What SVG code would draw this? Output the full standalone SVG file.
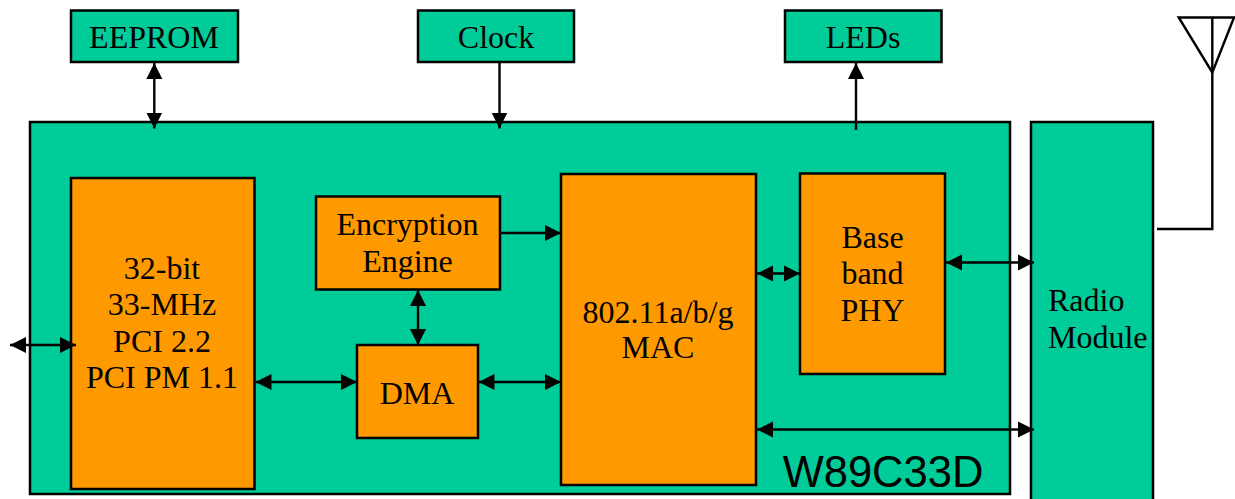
<svg xmlns="http://www.w3.org/2000/svg" width="1235" height="499" viewBox="0 0 1235 499">
<style>
.g{fill:#00cc99;stroke:#000;stroke-width:2.5}
.o{fill:#ff9900;stroke:#000;stroke-width:2.5}
text{font-family:"Liberation Serif","Times New Roman",serif;font-size:32px;fill:#000;text-anchor:middle}
.c line,.c polyline,.c polygon{fill:none;stroke:#000;stroke-width:2.4}
.a{marker-end:url(#h)}
.b{marker-start:url(#t);marker-end:url(#h)}
</style>
<defs>
<marker id="h" markerUnits="userSpaceOnUse" markerWidth="18" markerHeight="18" refX="16" refY="9" orient="auto"><path d="M0,1L16,9L0,17Z" fill="#000"/></marker>
<marker id="t" markerUnits="userSpaceOnUse" markerWidth="18" markerHeight="18" refX="0" refY="9" orient="auto"><path d="M16,1L0,9L16,17Z" fill="#000"/></marker>
</defs>
<g id="eeprom"><rect class="g" x="71" y="10.500" width="167" height="51.500"/><text x="154" y="48">EEPROM</text></g>
<g id="clock"><rect class="g" x="418" y="10.500" width="156" height="51.500"/><text x="496" y="48">Clock</text></g>
<g id="leds"><rect class="g" x="785" y="10.500" width="156.500" height="51.500"/><text x="863" y="48">LEDs</text></g>
<g id="chip"><rect class="g" x="30" y="122" width="980" height="372"/><text x="883" y="487" style="font-family:'Liberation Sans',Arial,sans-serif;font-size:43.500px">W89C33D</text></g>
<g id="radio"><rect class="g" x="1031" y="122" width="122" height="385"/><text x="1048" y="311" style="text-anchor:start">Radio</text><text x="1048" y="348" style="text-anchor:start">Module</text></g>
<g id="pci"><rect class="o" x="71" y="178" width="183.500" height="311"/><text x="162" y="279">32-bit</text><text x="162" y="315">33-MHz</text><text x="162" y="352">PCI 2.2</text><text x="162" y="388">PCI PM 1.1</text></g>
<g id="encryption"><rect class="o" x="316" y="196.500" width="184" height="93"/><text x="407.500" y="235">Encryption</text><text x="407.500" y="272">Engine</text></g>
<g id="dma"><rect class="o" x="357" y="345" width="121" height="93"/><text x="417" y="404">DMA</text></g>
<g id="mac"><rect class="o" x="561" y="174" width="195" height="311"/><text x="658" y="322.500">802.11a/b/g</text><text x="658" y="358">MAC</text></g>
<g id="baseband"><rect class="o" x="800" y="173.500" width="145" height="200.500"/><text x="872.500" y="248">Base</text><text x="872.500" y="284">band</text><text x="872.500" y="321">PHY</text></g>
<g id="connectors" class="c">
<line class="b" x1="154.300" y1="63" x2="154.300" y2="128.500"/>
<line class="a" x1="499.500" y1="62" x2="499.500" y2="128.500"/>
<line class="a" x1="856" y1="130" x2="856" y2="63"/>
<line class="b" x1="946" y1="262.500" x2="1034" y2="262.500"/>
<line class="b" x1="757" y1="273.500" x2="800" y2="273.500"/>
<line class="a" x1="500" y1="233" x2="561" y2="233"/>
<line class="b" x1="418" y1="290" x2="418" y2="345"/>
<line class="b" x1="255.500" y1="382" x2="357" y2="382"/>
<line class="b" x1="478.500" y1="382" x2="561" y2="382"/>
<line class="b" x1="757" y1="429.500" x2="1034" y2="429.500"/>
<line class="b" x1="10" y1="345" x2="76" y2="345"/>
<polyline points="1157,229 1212.300,229 1212.300,17.500"/>
<polygon points="1178.700,17.500 1234,17.500 1212.300,72.500"/>
</g>
</svg>
